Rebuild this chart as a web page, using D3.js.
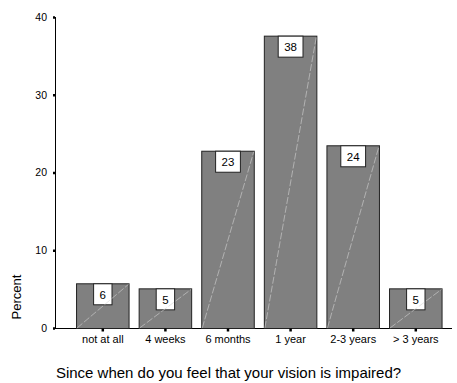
<!DOCTYPE html>
<html><head><meta charset="utf-8">
<script src="https://cdn.jsdelivr.net/npm/d3@7/dist/d3.min.js"></script>
<style>body{margin:0;background:#fff}svg{display:block}text{font-family:"Liberation Sans",Arial,sans-serif}</style>
</head><body>
<svg id="c" width="457" height="383"></svg>
<script>
const categories = ["not at all","4 weeks","6 months","1 year","2-3 years","> 3 years"];
const values = [5.75, 5.1, 22.8, 37.6, 23.5, 5.1];
const labels = ["6","5","23","38","24","5"];
const yTicks = [0,10,20,30,40];
const xTitle = "Since when do you feel that your vision is impaired?";
const yTitle = "Percent";

const svg = d3.select("#c");
const y = d3.scaleLinear().domain([0,40]).range([328,17]);
const x = d3.scaleBand().domain(categories).range([71,446.6]).paddingInner(0.161).paddingOuter(0.0806);

// axes lines
svg.append("line").attr("x1",55.5).attr("x2",55.5).attr("y1",y(40)).attr("y2",y(0)+0.5).attr("stroke","#000").attr("stroke-width",1);
svg.append("line").attr("x1",55).attr("x2",452).attr("y1",y(0)+0.5).attr("y2",y(0)+0.5).attr("stroke","#000").attr("stroke-width",1);

const ya = svg.append("g").attr("transform","translate(55,0)")
  .call(d3.axisLeft(y).tickValues(yTicks).tickSize(2).tickPadding(6));
ya.select(".domain").remove();
ya.selectAll(".tick line").attr("stroke-width",2.5);
ya.selectAll(".tick text").attr("font-size",10.5).attr("font-family","Liberation Sans, Arial, sans-serif");

// bars
const g = svg.append("g");
const bars = g.selectAll("g.bar").data(categories.map((c,i)=>({c,v:values[i],l:labels[i]}))).join("g").attr("class","bar");
bars.append("rect")
  .attr("x",d=>x(d.c)+0.5).attr("y",d=>y(d.v)+0.5)
  .attr("width",x.bandwidth()).attr("height",d=>y(0)-y(d.v))
  .attr("fill","#808080").attr("stroke","#222").attr("stroke-width",1);
// label boxes
bars.each(function(d){
  const sel = d3.select(this);
  const t = sel.append("text").text(d.l).attr("font-size",11.5).attr("text-anchor","middle")
    .attr("x",x(d.c)+x.bandwidth()/2+0.5).attr("y",y(d.v)+15.5).attr("fill","#000");
  const w = t.node().getComputedTextLength()+12;
  sel.insert("rect","text").attr("x",x(d.c)+x.bandwidth()/2-w/2+0.5).attr("y",y(d.v)+0.5)
    .attr("width",w).attr("height",21).attr("fill","#fff").attr("stroke","#222").attr("stroke-width",1);
  sel.append("line").attr("x1",x(d.c)+1).attr("y1",y(0)).attr("x2",x(d.c)+x.bandwidth()).attr("y2",y(d.v)+1)
    .attr("stroke","#d4d4d4").attr("stroke-width",0.6).attr("stroke-dasharray","7,2");
});

// x axis ticks/labels
const xa = svg.append("g").attr("transform",`translate(0.5,${y(0)+0.5})`)
  .call(d3.axisBottom(x).tickSize(3).tickPadding(4));
xa.select(".domain").remove();
xa.selectAll(".tick line").attr("stroke-width",2.5);
xa.selectAll(".tick text").attr("font-size",11).attr("font-family","Liberation Sans, Arial, sans-serif");

svg.append("text").text(xTitle).attr("x",228.5).attr("y",378).attr("text-anchor","middle").attr("font-size",15);
svg.append("text").text(yTitle).attr("transform","translate(21,297) rotate(-90)").attr("text-anchor","middle").attr("font-size",13);
</script>
</body></html>
